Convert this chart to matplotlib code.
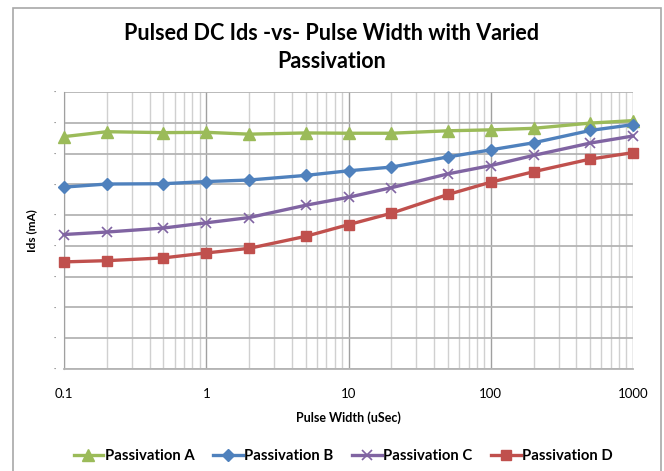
import matplotlib
matplotlib.use('Agg')
import matplotlib.pyplot as plt
from matplotlib.patches import Rectangle
from matplotlib.ticker import LogLocator, FixedLocator, NullFormatter

plt.rcParams['font.family'] = ['Lato', 'DejaVu Sans']

# pulse width (uSec) and Ids readings (y axis has no numeric labels)
pulse_width = [0.1, 0.2, 0.5, 1, 2, 5, 10, 20, 50, 100, 200, 500, 1000]
pass_a = [7.55, 7.71, 7.68, 7.69, 7.63, 7.67, 7.66, 7.66, 7.74, 7.77, 7.82, 7.99, 8.07]
pass_b = [5.91, 6.01, 6.02, 6.09, 6.14, 6.29, 6.44, 6.56, 6.89, 7.12, 7.35, 7.75, 7.94]
pass_c = [4.37, 4.45, 4.58, 4.75, 4.92, 5.32, 5.58, 5.89, 6.34, 6.61, 6.94, 7.34, 7.57]
pass_d = [3.48, 3.52, 3.61, 3.77, 3.92, 4.31, 4.69, 5.06, 5.67, 6.07, 6.41, 6.82, 7.03]
series_names = ['Passivation A', 'Passivation B', 'Passivation C', 'Passivation D']
x_ticks = [0.1, 1, 10, 100, 1000]
x_tick_labels = ['0.1', '1', '10', '100', '1000']

W, H = 664, 471
fig = plt.figure(figsize=(W / 100, H / 100), dpi=100)
ax = fig.add_axes([64 / W, 1 - 369 / H, (633 - 64) / W, (369 - 92) / H])

styles = [
    (pass_a, '#9BBB59', '^', 8),
    (pass_b, '#4F81BD', 'D', 6.5),
    (pass_c, '#8064A2', 'x', 7),
    (pass_d, '#C0504D', 's', 7.5),
]
for (vals, col, mk, ms), name in zip(styles, series_names):
    kw = dict(markeredgewidth=1.2) if mk == 'x' else dict(markeredgecolor=col)
    ax.plot(pulse_width, vals, color=col, lw=2.4, marker=mk, markersize=ms,
            label=name, zorder=3, clip_on=False, **kw)

ax.set_xscale('log')
ax.set_xlim(0.1, 1000)
ax.set_ylim(0, 9)
ax.xaxis.set_major_locator(FixedLocator(x_ticks))
ax.set_xticklabels(x_tick_labels)
ax.xaxis.set_minor_locator(LogLocator(base=10, subs=range(2, 10)))
ax.xaxis.set_minor_formatter(NullFormatter())
ax.set_yticks(range(0, 10))
ax.set_yticklabels(['·'] * 10, color='#606060', fontsize=6)

ax.grid(True, axis='y', which='major', color='#b4b4b4', lw=1.3)
ax.grid(True, axis='x', which='major', color='#a0a0a0', lw=1.0)
ax.grid(True, axis='x', which='minor', color='#d0d0d0', lw=1.0)
ax.set_axisbelow(True)
for s in ['top', 'right']:
    ax.spines[s].set_visible(False)
ax.spines['left'].set_color('#a0a0a0')
ax.spines['bottom'].set_color('#b4b4b4')
ax.spines['bottom'].set_linewidth(1.3)
ax.tick_params(axis='both', which='both', length=0)
ax.tick_params(axis='x', pad=14, labelsize=9.5, labelcolor='#000000')
ax.tick_params(axis='y', pad=6)

ax.set_xlabel('Pulse Width (uSec)', fontsize=9, fontweight='bold', labelpad=8)
ax.set_ylabel('Ids (mA)', fontsize=8.5, fontweight='bold', labelpad=12)

fig.text(0.5, 1 - 33 / H, 'Pulsed DC Ids -vs- Pulse Width with Varied',
         ha='center', va='center', fontsize=15.5, fontweight='bold')
fig.text(0.5, 1 - 61 / H, 'Passivation',
         ha='center', va='center', fontsize=15.5, fontweight='bold')

fig.legend(loc='center', bbox_to_anchor=(0.517, 1 - 456 / H), ncol=4, frameon=False,
           prop={'weight': 'bold', 'size': 10.7}, handlelength=2.0, columnspacing=1.25,
           handletextpad=0.1)

fig.patches.append(Rectangle((12.5 / W, -0.02), (661 - 12.5) / W, (471 - 7.5) / H + 0.02,
                             transform=fig.transFigure, fill=False, ec='#a8a8a8', lw=1.2))

fig.savefig('out.png', dpi=100)
